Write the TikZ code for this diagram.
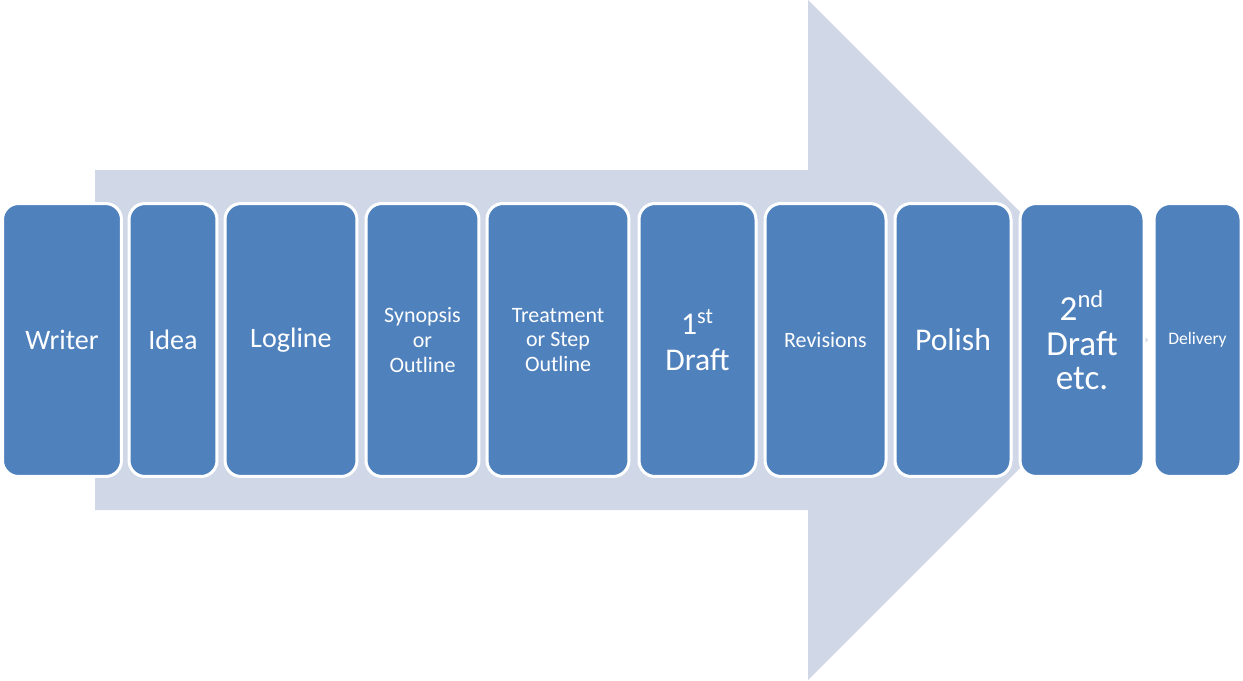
\documentclass[tikz,border=0pt]{standalone}
\usepackage{fontspec}
\setmainfont{Carlito}
\definecolor{boxblue}{HTML}{4F81BD}
\definecolor{arrowgrey}{HTML}{D0D8E8}
\tikzset{
  stage/.style={draw=white, line width=0.06cm, fill=boxblue, rounded corners=0.32cm,
    minimum height=5.46cm, text=white, align=center, inner sep=0pt},
  big/.style={font=\fontsize{16}{16}\selectfont},
  small/.style={font=\fontsize{12.5}{14.2}\selectfont},
}
\begin{document}
\begin{tikzpicture}[x=0.02cm, y=-0.02cm]
\useasboundingbox (0,0) rectangle (1243,680);

% the big arrow behind
\fill[arrowgrey] (95,170) -- (808,170) -- (808,0) -- (1148,340) -- (808,680) -- (808,510) -- (95,510) -- cycle;

% the stages
\node[stage, big, minimum width=2.38cm] (writer) at (62,340) {Writer};
\node[stage, big, minimum width=1.76cm] (idea) at (173,340) {Idea};
\node[stage, big, minimum width=2.64cm] (logline) at (291,340) {Logline};
\node[stage, small, minimum width=2.26cm] (synopsis) at (422.5,340) {Synopsis\\or\\Outline};
\node[stage, small, minimum width=2.84cm] (treatment) at (558,340) {Treatment\\or Step\\Outline};
\node[stage, font=\fontsize{18}{20.5}\selectfont, minimum width=2.34cm] (first) at (697.5,340) {1\textsuperscript{st}\\Draft};
\node[stage, small, minimum width=2.42cm] (revisions) at (825.5,340) {Revisions};
\node[stage, font=\fontsize{18}{18}\selectfont, minimum width=2.32cm] (polish) at (953,340) {Polish};
\node[stage, font=\fontsize{20}{19.5}\selectfont, minimum width=2.48cm] (second) at (1082,340) {2\textsuperscript{nd}\\Draft\\etc.};
\node[stage, font=\fontsize{10}{10}\selectfont, minimum width=1.74cm] (delivery) at (1197.5,340) {Delivery};
\end{tikzpicture}
\end{document}
